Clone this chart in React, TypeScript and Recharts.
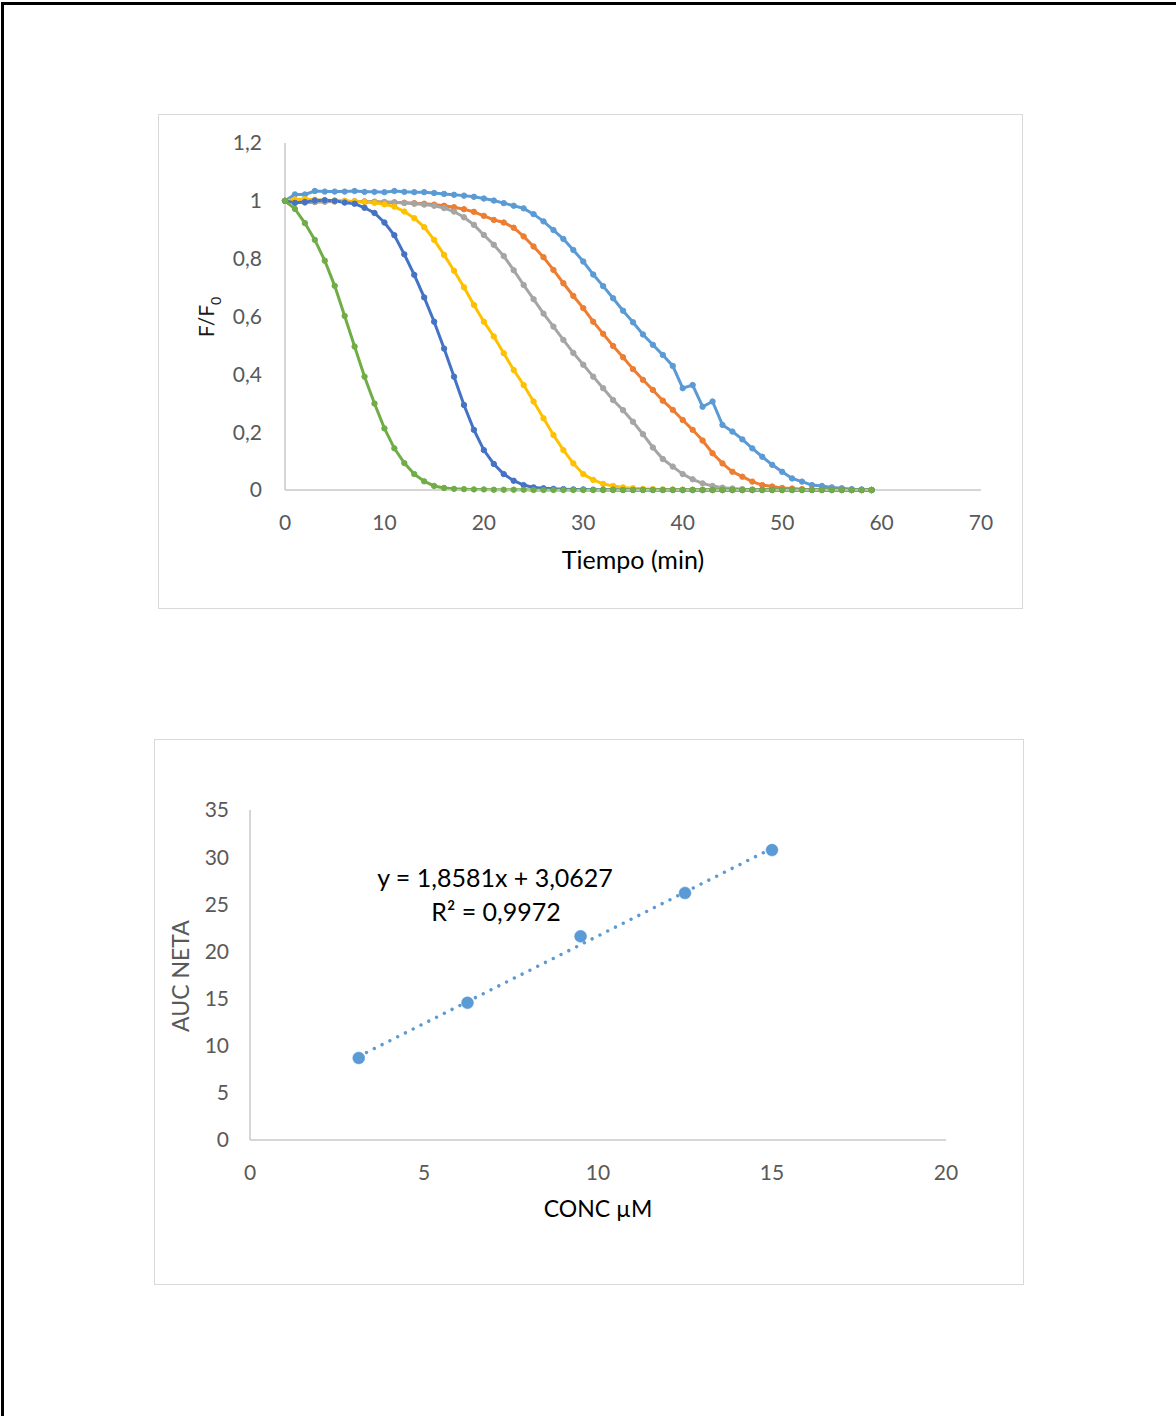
import React from 'react';
import { LineChart, Line, XAxis, YAxis, ComposedChart, Scatter } from 'recharts';

// ---------- Chart 1 data: F/F0 vs time ----------
const TIME = [
  0, 1, 2, 3, 4, 5, 6, 7, 8, 9,
  10, 11, 12, 13, 14, 15, 16, 17, 18, 19,
  20, 21, 22, 23, 24, 25, 26, 27, 28, 29,
  30, 31, 32, 33, 34, 35, 36, 37, 38, 39,
  40, 41, 42, 43, 44, 45, 46, 47, 48, 49,
  50, 51, 52, 53, 54, 55, 56, 57, 58, 59,
];

const SERIES_LIGHT_BLUE = [
  1.000, 1.022, 1.022, 1.034, 1.032, 1.032, 1.032, 1.034, 1.031, 1.031,
  1.030, 1.034, 1.031, 1.030, 1.030, 1.027, 1.024, 1.021, 1.018, 1.014,
  1.008, 1.001, 0.992, 0.983, 0.974, 0.954, 0.929, 0.899, 0.868, 0.830,
  0.790, 0.745, 0.705, 0.663, 0.620, 0.580, 0.538, 0.502, 0.467, 0.429,
  0.352, 0.363, 0.288, 0.306, 0.225, 0.202, 0.175, 0.144, 0.115, 0.087,
  0.063, 0.040, 0.029, 0.017, 0.014, 0.009, 0.006, 0.003, 0.002, 0.000,
];

const SERIES_ORANGE = [
  1.000, 0.997, 0.995, 0.996, 0.998, 0.998, 0.998, 0.998, 0.997, 0.996,
  0.995, 0.994, 0.993, 0.992, 0.990, 0.987, 0.983, 0.978, 0.971, 0.962,
  0.948, 0.934, 0.925, 0.907, 0.877, 0.842, 0.805, 0.761, 0.715, 0.671,
  0.629, 0.582, 0.540, 0.498, 0.459, 0.418, 0.381, 0.346, 0.309, 0.277,
  0.242, 0.208, 0.171, 0.127, 0.092, 0.063, 0.046, 0.029, 0.017, 0.012,
  0.007, 0.005, 0.003, 0.002, 0.001, 0.001, 0.001, 0.000, 0.000, 0.000,
];

const SERIES_GRAY = [
  1.000, 0.995, 0.994, 0.996, 0.997, 0.998, 0.998, 0.998, 0.998, 0.997,
  0.996, 0.995, 0.993, 0.990, 0.987, 0.983, 0.975, 0.963, 0.943, 0.917,
  0.882, 0.848, 0.809, 0.760, 0.709, 0.660, 0.610, 0.565, 0.519, 0.474,
  0.433, 0.392, 0.352, 0.311, 0.276, 0.236, 0.193, 0.147, 0.107, 0.081,
  0.055, 0.037, 0.023, 0.014, 0.008, 0.005, 0.003, 0.002, 0.001, 0.001,
  0.001, 0.000, 0.000, 0.000, 0.000, 0.000, 0.000, 0.000, 0.000, 0.000,
];

const SERIES_YELLOW = [
  1.000, 1.005, 1.006, 1.004, 1.002, 1.001, 1.000, 0.998, 0.996, 0.993,
  0.988, 0.980, 0.963, 0.940, 0.909, 0.865, 0.813, 0.758, 0.701, 0.640,
  0.582, 0.531, 0.473, 0.415, 0.363, 0.306, 0.248, 0.190, 0.138, 0.092,
  0.055, 0.035, 0.021, 0.014, 0.009, 0.006, 0.004, 0.003, 0.002, 0.002,
  0.001, 0.001, 0.001, 0.000, 0.000, 0.000, 0.000, 0.000, 0.000, 0.000,
  0.000, 0.000, 0.000, 0.000, 0.000, 0.000, 0.000, 0.000, 0.000, 0.000,
];

const SERIES_DARK_BLUE = [
  1.000, 0.993, 0.996, 1.001, 1.002, 1.000, 0.994, 0.990, 0.976, 0.958,
  0.925, 0.881, 0.815, 0.744, 0.666, 0.582, 0.489, 0.392, 0.294, 0.208,
  0.138, 0.090, 0.055, 0.032, 0.017, 0.009, 0.006, 0.004, 0.003, 0.002,
  0.002, 0.001, 0.001, 0.001, 0.000, 0.000, 0.000, 0.000, 0.000, 0.000,
  0.000, 0.000, 0.000, 0.000, 0.000, 0.000, 0.000, 0.000, 0.000, 0.000,
  0.000, 0.000, 0.000, 0.000, 0.000, 0.000, 0.000, 0.000, 0.000, 0.000,
];

const SERIES_GREEN = [
  1.000, 0.972, 0.923, 0.865, 0.793, 0.706, 0.602, 0.496, 0.392, 0.299,
  0.213, 0.144, 0.093, 0.055, 0.030, 0.014, 0.007, 0.004, 0.003, 0.002,
  0.002, 0.001, 0.001, 0.001, 0.001, 0.000, 0.000, 0.000, 0.000, 0.000,
  0.000, 0.000, 0.000, 0.000, 0.000, 0.000, 0.000, 0.000, 0.000, 0.000,
  0.000, 0.000, 0.000, 0.000, 0.000, 0.000, 0.000, 0.000, 0.000, 0.000,
  0.000, 0.000, 0.000, 0.000, 0.000, 0.000, 0.000, 0.000, 0.000, 0.000,
];

const X1_TICKS = [0, 10, 20, 30, 40, 50, 60, 70];
const Y1_TICKS = [0, 0.2, 0.4, 0.6, 0.8, 1, 1.2];

// ---------- Chart 2 data: AUC NETA vs CONC ----------
const CONC = [3.125, 6.25, 9.5, 12.5, 15];
const AUC_NETA = [8.7, 14.55, 21.6, 26.2, 30.75];
const TREND_SLOPE = 1.8581;
const TREND_INTERCEPT = 3.0627;
const X2_TICKS = [0, 5, 10, 15, 20];
const Y2_TICKS = [0, 5, 10, 15, 20, 25, 30, 35];

const SERIES = [
  { key: 'lb', values: SERIES_LIGHT_BLUE, color: '#5B9BD5' },
  { key: 'or', values: SERIES_ORANGE, color: '#ED7D31' },
  { key: 'gr', values: SERIES_GRAY, color: '#A5A5A5' },
  { key: 'ye', values: SERIES_YELLOW, color: '#FFC000' },
  { key: 'db', values: SERIES_DARK_BLUE, color: '#4472C4' },
  { key: 'gn', values: SERIES_GREEN, color: '#70AD47' },
];

const chart1Data = TIME.map((t, i) => {
  const row: Record<string, number> = { t };
  SERIES.forEach((s) => {
    row[s.key] = s.values[i];
  });
  return row;
});

const chart2Data = CONC.map((x, i) => ({ x, y: AUC_NETA[i] }));
const trendX = [CONC[0], CONC[CONC.length - 1]];
const trendData = trendX.map((x) => ({ x, y: TREND_SLOPE * x + TREND_INTERCEPT }));

const FONT = 'Lato, "Open Sans", sans-serif';
const TICK_STYLE = { fill: '#595959', fontSize: 21, fontFamily: FONT };
const AXIS_LINE = { stroke: '#C9C9C9', strokeWidth: 1.5 };

const commaFmt = (v: number) => String(Math.round(v * 10) / 10).replace('.', ',');

const fLabel = () => (
  <text
    x={56}
    y={203}
    transform="rotate(-90 56 203)"
    textAnchor="middle"
    fill="#1a1a1a"
    fontSize={21}
    fontFamily={FONT}
  >
    F/F<tspan fontSize={14} dy={7}>0</tspan>
  </text>
);

const tiempoLabel = () => (
  <text x={475} y={455} textAnchor="middle" fill="#000" fontSize={25} fontFamily={FONT}>
    Tiempo (min)
  </text>
);

const aucLabel = () => (
  <text
    x={35}
    y={237}
    transform="rotate(-90 35 237)"
    textAnchor="middle"
    fill="#595959"
    fontSize={23}
    fontFamily={FONT}
  >
    AUC NETA
  </text>
);

const concLabel = () => (
  <text x={444} y={478} textAnchor="middle" fill="#000" fontSize={23} fontFamily={FONT}>
    CONC µM
  </text>
);

const Dot2 = (props: any) => {
  const { cx, cy } = props;
  if (cx == null || cy == null) return null;
  return <circle cx={cx} cy={cy} r={6} fill="#5B9BD5" stroke="#5B9BD5" strokeWidth={0.5} />;
};

export default function App() {
  return (
    <div
      style={{
        position: 'absolute',
        left: 0,
        top: 0,
        width: 1176,
        height: 1416,
        background: '#ffffff',
        overflow: 'hidden',
        fontFamily: FONT,
      }}
    >
      {/* page border (top + left) */}
      <div style={{ position: 'absolute', left: 1, top: 2, width: 1175, height: 3, background: '#000' }} />
      <div style={{ position: 'absolute', left: 1, top: 2, width: 3, height: 1414, background: '#000' }} />

      {/* Chart 1 frame */}
      <div
        style={{
          position: 'absolute',
          left: 158,
          top: 114,
          width: 865,
          height: 495,
          border: '1px solid #D9D9D9',
          boxSizing: 'border-box',
        }}
      />
      <div style={{ position: 'absolute', left: 158, top: 114 }}>
        <LineChart
          width={864}
          height={494}
          data={chart1Data}
          margin={{ top: 29, right: 41, bottom: 0, left: 0 }}
        >
          <XAxis
            type="number"
            dataKey="t"
            domain={[0, 70]}
            ticks={X1_TICKS}
            interval={0}
            tickLine={false}
            tickSize={0}
            tickMargin={25}
            axisLine={AXIS_LINE}
            tick={TICK_STYLE}
            height={118}
            label={tiempoLabel}
          />
          <YAxis
            type="number"
            domain={[0, 1.2]}
            ticks={Y1_TICKS}
            interval={0}
            tickLine={false}
            tickSize={0}
            tickMargin={23}
            axisLine={AXIS_LINE}
            tick={TICK_STYLE}
            tickFormatter={commaFmt}
            width={127}
            label={fLabel}
          />
          {SERIES.map((s) => (
            <Line
              key={s.key}
              type="linear"
              dataKey={s.key}
              stroke={s.color}
              strokeWidth={3}
              dot={{ r: 2.7, fill: s.color, stroke: s.color, strokeWidth: 1 }}
              activeDot={false}
              isAnimationActive={false}
            />
          ))}
        </LineChart>
      </div>

      {/* Chart 2 frame */}
      <div
        style={{
          position: 'absolute',
          left: 154,
          top: 739,
          width: 870,
          height: 546,
          border: '1px solid #D9D9D9',
          boxSizing: 'border-box',
        }}
      />
      <div style={{ position: 'absolute', left: 154, top: 739 }}>
        <ComposedChart
          width={869}
          height={545}
          data={chart2Data}
          margin={{ top: 71, right: 77, bottom: 0, left: 0 }}
        >
          <XAxis
            type="number"
            dataKey="x"
            domain={[0, 20]}
            ticks={X2_TICKS}
            interval={0}
            tickLine={false}
            tickSize={0}
            tickMargin={25}
            axisLine={AXIS_LINE}
            tick={TICK_STYLE}
            height={144}
            label={concLabel}
          />
          <YAxis
            type="number"
            domain={[0, 35]}
            ticks={Y2_TICKS}
            interval={0}
            tickLine={false}
            tickSize={0}
            tickMargin={21}
            axisLine={AXIS_LINE}
            tick={TICK_STYLE}
            width={96}
            label={aucLabel}
          />
          <Line
            data={trendData}
            type="linear"
            dataKey="y"
            stroke="#5B9BD5"
            strokeWidth={3.4}
            strokeDasharray="0.01 8.7"
            strokeLinecap="round"
            dot={false}
            activeDot={false}
            isAnimationActive={false}
          />
          <Scatter data={chart2Data} dataKey="y" shape={Dot2} isAnimationActive={false} />
        </ComposedChart>
      </div>

      {/* Trendline equation */}
      <svg
        style={{ position: 'absolute', left: 154, top: 739, pointerEvents: 'none' }}
        width={869}
        height={545}
      >
        <text x={341} y={148} textAnchor="middle" fill="#000" fontSize={25} fontFamily={FONT}>
          y = 1,8581x + 3,0627
        </text>
        <text x={342} y={182} textAnchor="middle" fill="#000" fontSize={25} fontFamily={FONT}>
          R² = 0,9972
        </text>
      </svg>
    </div>
  );
}
